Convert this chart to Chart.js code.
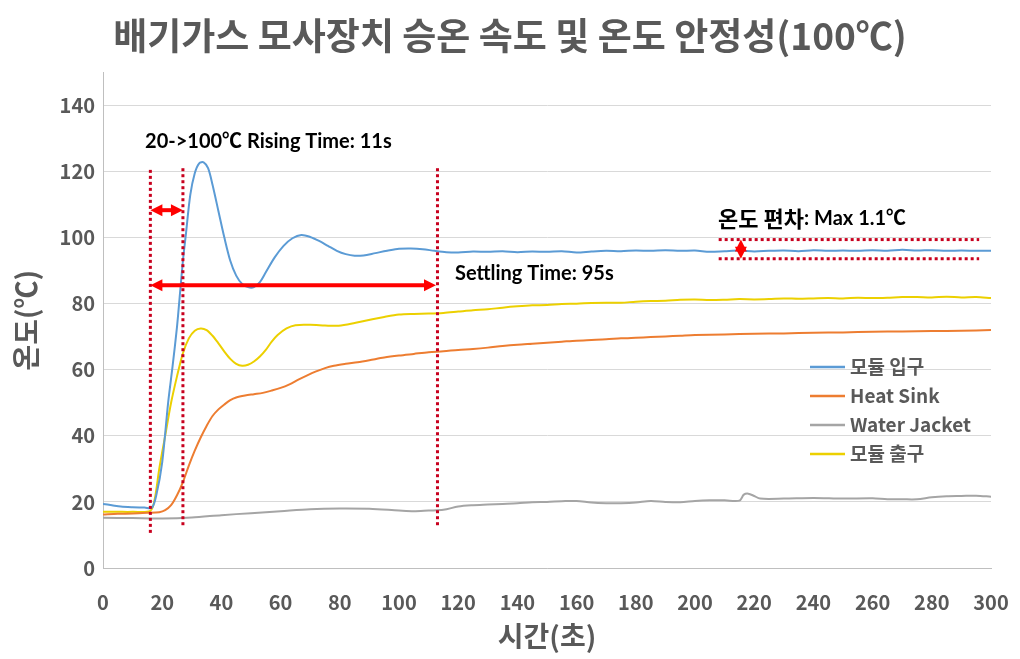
<!DOCTYPE html>
<html>
<head>
<meta charset="utf-8">
<script src="https://cdn.jsdelivr.net/npm/chart.js@4.4.1/dist/chart.umd.min.js"></script>
<style>
  body { margin: 0; background: #ffffff; }
  #wrap { width: 1020px; height: 659px; }
</style>
</head>
<body>
<div id="wrap"><canvas id="chart" width="1020" height="659"></canvas></div>
<script>
// series (time in s, temperature in C)
const inletTime = [0, 3, 6, 10, 14, 16.5, 18, 20, 22, 23.5, 25, 26, 27, 28, 29.5, 31, 32.5, 34, 35.5, 37, 39, 41, 43, 45, 47, 49, 51, 53, 55, 58, 61, 64, 67, 70, 73, 76, 79, 82, 85, 88, 92, 96, 100, 104, 108, 112, 116, 120, 125, 130, 135, 140, 145, 150, 155, 160, 165, 170, 175, 180, 185, 190, 195, 200, 205, 210, 215, 220, 225, 230, 235, 240, 245, 250, 255, 260, 265, 270, 275, 280, 285, 290, 295, 300];
const inletTemp = [19.4, 19, 18.6, 18.4, 18.3, 18.2, 22, 32, 50, 61, 73, 83, 93, 101, 113, 119.5, 122.5, 122.8, 121, 116, 108, 100, 93, 88.5, 86, 85, 85, 86.5, 89.5, 94, 97.5, 99.8, 100.8, 100.2, 99, 97.5, 96, 95, 94.5, 94.6, 95.3, 96, 96.6, 96.7, 96.5, 96, 95.6, 95.5, 95.8, 95.7, 95.9, 95.6, 95.8, 95.7, 95.9, 95.5, 95.8, 96, 95.9, 96.1, 96, 96.2, 96, 96.1, 95.7, 95.9, 96.1, 95.8, 96, 96.1, 95.9, 96.2, 96, 96.1, 96, 96.2, 96, 96.3, 96.1, 96.2, 96, 96.1, 96, 96];

const sinkTime = [0, 5, 10, 15, 19, 21, 23, 25, 27, 29, 31, 33, 35, 37, 39, 41, 43, 45, 48, 51, 54, 57, 60, 63, 66, 69, 72, 75, 78, 82, 86, 90, 95, 100, 105, 110, 115, 120, 125, 130, 135, 140, 145, 150, 155, 160, 165, 170, 175, 180, 185, 190, 195, 200, 210, 220, 230, 240, 250, 260, 270, 280, 290, 300];
const sinkTemp = [16.2, 16.4, 16.5, 16.7, 16.9, 17.5, 19, 22, 26, 31, 35.5, 39.5, 43, 46, 48, 49.5, 50.8, 51.6, 52.2, 52.6, 53, 53.7, 54.5, 55.6, 57, 58.3, 59.5, 60.5, 61.2, 61.8, 62.3, 62.9, 63.7, 64.3, 64.8, 65.3, 65.6, 66, 66.3, 66.7, 67.2, 67.6, 67.9, 68.2, 68.5, 68.8, 69, 69.2, 69.5, 69.7, 69.9, 70.1, 70.3, 70.5, 70.7, 70.9, 71, 71.2, 71.3, 71.5, 71.6, 71.7, 71.8, 72];

const jacketTime = [0, 10, 20, 30, 40, 50, 60, 70, 80, 90, 100, 105, 110, 115, 120, 125, 130, 135, 140, 145, 150, 155, 160, 165, 170, 175, 180, 185, 190, 195, 200, 205, 210, 215, 216.5, 218, 220, 222, 230, 240, 250, 260, 265, 270, 275, 280, 285, 290, 295, 300];
const jacketTemp = [15.2, 15.1, 15, 15.3, 16, 16.6, 17.2, 17.8, 18, 17.9, 17.4, 17.2, 17.4, 17.6, 18.6, 19, 19.2, 19.4, 19.6, 19.9, 20, 20.2, 20.3, 19.8, 19.6, 19.6, 19.8, 20.3, 20, 19.9, 20.3, 20.5, 20.5, 20.4, 22.2, 22.5, 21.8, 21, 21, 21.2, 21, 21.1, 20.8, 20.8, 20.8, 21.4, 21.7, 21.8, 21.9, 21.6];

const outletTime = [0, 5, 10, 16, 17.5, 19, 21, 23, 25, 27, 29, 31, 33, 35, 37, 39, 41, 43, 45, 47, 49, 51, 53, 55, 57, 59, 62, 65, 70, 75, 79, 83, 87, 91, 95, 100, 105, 110, 115, 120, 125, 130, 135, 140, 145, 150, 155, 160, 165, 170, 175, 180, 185, 190, 195, 200, 205, 210, 215, 220, 225, 230, 235, 240, 245, 250, 255, 260, 265, 270, 275, 280, 285, 290, 295, 300];
const outletTemp = [17, 17, 17, 17.3, 21, 30, 40, 50, 58, 65, 69.5, 71.8, 72.5, 72, 70.3, 68, 65.5, 63.3, 61.8, 61.2, 61.5, 62.5, 64, 66, 68.5, 70.5, 72.5, 73.5, 73.6, 73.4, 73.3, 73.8, 74.5, 75.3, 76, 76.7, 76.9, 77, 77.2, 77.6, 78, 78.3, 78.8, 79.2, 79.5, 79.6, 79.9, 80, 80.2, 80.3, 80.3, 80.6, 80.8, 80.9, 81.2, 81.3, 81.1, 81.2, 81.4, 81.3, 81.4, 81.6, 81.5, 81.6, 81.7, 81.6, 81.8, 81.7, 81.8, 82, 82, 81.9, 82.1, 81.9, 82, 81.7];

const seriesLabels = ['모듈 입구', 'Heat Sink', 'Water Jacket', '모듈 출구'];

// annotation values (data units)
const markerTimes = [16, 27, 113];
const markerSpans = [[10.5, 120.5], [12.5, 121], [12.5, 121]];
const riseArrow = [16, 27, 108.3];      // from, to, at temp
const settleArrow = [16, 112.5, 85.6];
const bandLimits = [99.4, 93.6];
const bandRange = [208, 296];
const bandArrowTime = 215.5;

const zip = (t, v) => t.map((x, i) => ({x: x, y: v[i]}));

function line(ctx, x1, y1, x2, y2) {
    ctx.beginPath();
    ctx.moveTo(x1, y1);
    ctx.lineTo(x2, y2);
    ctx.stroke();
}

function arrow(ctx, x1, y1, x2, y2) {
    const ang = Math.atan2(y2 - y1, x2 - x1);
    const head = 12, half = 6;
    const dx = Math.cos(ang), dy = Math.sin(ang);
    ctx.lineWidth = 4;
    line(ctx, x1 + dx * head * 0.8, y1 + dy * head * 0.8, x2 - dx * head * 0.8, y2 - dy * head * 0.8);
    [[x2, y2, 1], [x1, y1, -1]].forEach(([px, py, s]) => {
        ctx.beginPath();
        ctx.moveTo(px, py);
        ctx.lineTo(px - s * dx * head - dy * half, py - s * dy * head + dx * half);
        ctx.lineTo(px - s * dx * head + dy * half, py - s * dy * head - dx * half);
        ctx.closePath();
        ctx.fill();
    });
}

const annotations = {
    id: 'annotations',
    afterDatasetsDraw(chart) {
        const {ctx, scales: {x, y}} = chart;
        const X = v => x.getPixelForValue(v), Y = v => y.getPixelForValue(v);
        ctx.save();
        ctx.strokeStyle = '#c8001e';
        ctx.lineWidth = 3;
        ctx.setLineDash([3, 3]);
        markerTimes.forEach((t, i) => line(ctx, X(t), Y(markerSpans[i][1]), X(t), Y(markerSpans[i][0])));
        bandLimits.forEach(v => line(ctx, X(bandRange[0]), Y(v), X(bandRange[1]), Y(v)));
        ctx.setLineDash([]);

        ctx.strokeStyle = '#ff0000';
        ctx.fillStyle = '#ff0000';
        arrow(ctx, X(riseArrow[0]), Y(riseArrow[2]), X(riseArrow[1]), Y(riseArrow[2]));
        arrow(ctx, X(settleArrow[0]), Y(settleArrow[2]), X(settleArrow[1]), Y(settleArrow[2]));
        arrow(ctx, X(bandArrowTime), Y(bandLimits[0]), X(bandArrowTime), Y(bandLimits[1]));

        ctx.fillStyle = '#000000';
        ctx.textBaseline = 'middle';
        ctx.textAlign = 'left';
        ctx.font = "bold 20px Lato, 'Noto Sans CJK KR'";
        ctx.fillText('20->100℃ Rising Time: 11s', X(14.2), Y(129.1));
        ctx.fillText('Settling Time: 95s', X(118.9), Y(89.2));
        ctx.font = "bold 22px 'Noto Sans CJK KR'";
        const kor = '온도 편차';
        ctx.fillText(kor, X(207.8), Y(105.8));
        const w = ctx.measureText(kor).width;
        ctx.font = "bold 20px Lato, 'Noto Sans CJK KR'";
        ctx.fillText(': Max 1.1℃', X(207.8) + w, Y(105.8));
        ctx.restore();
    }
};

// legend drawn inside the plot, right side
const sideLegend = {
    id: 'sideLegend',
    afterDraw(chart) {
        const ctx = chart.ctx;
        ctx.save();
        ctx.textBaseline = 'middle';
        ctx.font = "bold 19px 'Noto Sans CJK KR'";
        chart.data.datasets.forEach((ds, i) => {
            const yy = 367 + i * 29;
            ctx.strokeStyle = ds.borderColor;
            ctx.lineWidth = 2.5;
            line(ctx, 810, yy, 845, yy);
            ctx.fillStyle = '#595959';
            ctx.fillText(ds.label, 850, yy);
        });
        ctx.restore();
    }
};

const colors = ['#5b9bd5', '#ed7d31', '#a5a5a5', '#ecd000'];
const seriesData = [zip(inletTime, inletTemp), zip(sinkTime, sinkTemp), zip(jacketTime, jacketTemp), zip(outletTime, outletTemp)];

Chart.defaults.font.family = "'Noto Sans CJK KR', sans-serif";
Chart.defaults.color = '#595959';

new Chart(document.getElementById('chart'), {
    type: 'line',
    data: {
        datasets: seriesLabels.map((label, i) => ({
            label: label,
            data: seriesData[i],
            borderColor: colors[i],
            backgroundColor: colors[i],
            borderWidth: 2,
            pointRadius: 0,
            tension: 0.3
        }))
    },
    options: {
        responsive: false,
        animation: false,
        layout: {padding: 0},
        plugins: {
            legend: {display: false},
            tooltip: {enabled: false},
            title: {
                display: true,
                text: '배기가스 모사장치 승온 속도 및 온도 안정성(100℃)',
                color: '#595959',
                font: {size: 37, weight: 'bold'},
                padding: {top: 14, bottom: 14}
            }
        },
        scales: {
            x: {
                type: 'linear',
                min: 0,
                max: 300,
                grid: {display: false, drawTicks: false},
                border: {display: true, color: '#bfbfbf'},
                ticks: {stepSize: 20, padding: 22, maxRotation: 0, font: {size: 20, weight: 'bold'}},
                title: {display: true, text: '시간(초)', font: {size: 28, weight: 'bold'}, padding: {top: 0, bottom: 6}},
                afterFit(scale) {
                    scale.height = 91;
                    scale.paddingLeft = 0;
                    scale.paddingRight = 29;
                }
            },
            y: {
                min: 0,
                max: 150,
                grid: {color: '#d9d9d9', drawTicks: false},
                border: {display: true, color: '#bfbfbf'},
                ticks: {stepSize: 20, padding: 8, font: {size: 20, weight: 'bold'}},
                title: {display: true, text: '온도(℃)', font: {size: 28, weight: 'bold'}, padding: {top: 10, bottom: 0}},
                afterBuildTicks(scale) { scale.ticks = scale.ticks.filter(t => t.value <= 140); },
                afterFit(scale) { scale.width = 103; }
            }
        }
    },
    plugins: [annotations, sideLegend]
});
</script>
</body>
</html>
